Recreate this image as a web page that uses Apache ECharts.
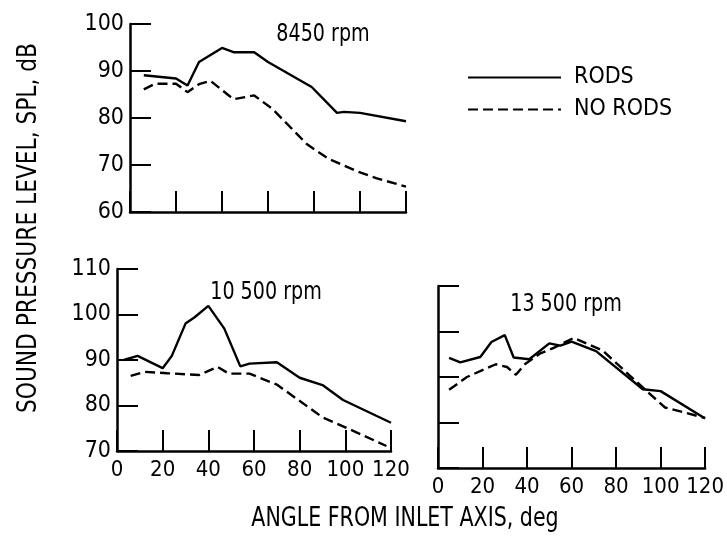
<!DOCTYPE html>
<html lang="en">
<head>
<meta charset="UTF-8">
<title>SPL vs angle from inlet axis</title>
<script src="https://cdn.jsdelivr.net/npm/echarts@6/dist/echarts.min.js"></script>
<style>
    html, body { margin: 0; height: 100%; background: #fff; }
    #main { width: 727px; height: 549px; }
</style>
</head>
<body>
<div id="main"></div>
<script>
    // values: angle (deg) / SPL (dB)
    var ang8450Rods = [6, 20, 25, 30, 40, 45, 54, 60, 79, 90, 93, 100, 120];
    var spl8450Rods = [89.1, 88.4, 86.9, 91.9, 94.9, 94, 94, 91.9, 86.6, 81.1, 81.3, 81.1, 79.3];
    var ang8450NoRods = [6, 11, 20, 25, 30, 35, 45, 54, 62, 77, 86, 98, 107, 120];
    var spl8450NoRods = [86.1, 87.3, 87.3, 85.5, 87.2, 87.9, 84, 84.8, 81.9, 74.4, 71.4, 68.8, 67.2, 65.4];

    var ang10500Rods = [3, 9, 20, 24, 30, 34, 40, 47, 54, 58, 70, 80, 90, 99, 120];
    var spl10500Rods = [90, 90.9, 88.2, 90.9, 98, 99.4, 101.9, 96.9, 88.6, 89.2, 89.5, 86.1, 84.5, 81.2, 76.2];
    var ang10500NoRods = [6, 12, 22, 36, 44, 49, 58, 70, 90, 100, 118];
    var spl10500NoRods = [86.5, 87.4, 87.1, 86.7, 88.5, 87, 87, 84.6, 77.4, 75.2, 71.1];

    var ang13500Rods = [5, 10, 19, 24, 30, 34, 41, 50, 55, 60, 71, 92, 100, 120];
    var spl13500Rods = [94.2, 93.2, 94.4, 97.7, 99.2, 94.3, 93.9, 97.4, 96.9, 97.8, 95.7, 87.3, 86.9, 80.9];
    var ang13500NoRods = [5, 13, 26, 31, 35, 39, 46, 52, 61, 74, 94, 102, 120];
    var spl13500NoRods = [87.2, 90, 92.8, 92.2, 90.5, 92.8, 95.2, 96.4, 98.6, 95.8, 86.8, 83.3, 81];

    var FONT = "'DejaVu Sans Condensed', 'DejaVu Sans', sans-serif";

    function pairs(a, v) {
        return a.map(function (x, i) { return [x, v[i]]; });
    }

    function xAxis(idx, showLabel) {
        return {
            type: 'value', gridIndex: idx, min: 0, max: 120, interval: 20,
            axisLine: { show: true, lineStyle: { color: '#000', width: 2.5 } },
            axisTick: { show: true, inside: true, length: 21, lineStyle: { color: '#000', width: 2 } },
            splitLine: { show: false },
            axisLabel: { show: showLabel, color: '#000', fontSize: 22, fontFamily: FONT, margin: 8 }
        };
    }

    function yAxis(idx, min, max, showLabel) {
        return {
            type: 'value', gridIndex: idx, min: min, max: max, interval: 10,
            axisLine: { show: true, lineStyle: { color: '#000', width: 2.5 } },
            axisTick: { show: true, inside: true, length: 21, lineStyle: { color: '#000', width: 2 } },
            splitLine: { show: false },
            axisLabel: { show: showLabel, color: '#000', fontSize: 23, fontFamily: FONT, margin: 6 }
        };
    }

    function line(name, idx, data, dashed) {
        return {
            name: name, type: 'line', xAxisIndex: idx, yAxisIndex: idx,
            data: data, symbol: 'none', smooth: false, silent: true,
            lineStyle: { color: '#000', width: 2.4, type: dashed ? [10, 5] : 'solid' },
            itemStyle: { color: '#000' }
        };
    }

    // condensed lettering of the scan: draw a bit taller, then squeeze along the text
    function label(text, x, y, size, squeeze, rot) {
        return {
            type: 'text', x: x, y: y, rotation: rot || 0, scaleX: squeeze,
            style: { text: text, fill: '#000', font: size + 'px ' + FONT,
                     textAlign: 'center', textVerticalAlign: 'middle' }
        };
    }

    var myChart = echarts.init(document.getElementById('main'));

    var option = {
        backgroundColor: '#fff',
        animation: false,
        grid: [
            { left: 130, top: 24, width: 276, height: 188 },
            { left: 117, top: 269, width: 274, height: 182 },
            { left: 438, top: 286, width: 272, height: 182 }
        ],
        xAxis: [xAxis(0, false), xAxis(1, true), xAxis(2, true)],
        yAxis: [yAxis(0, 60, 100, true), yAxis(1, 70, 110, true), yAxis(2, 70, 110, false)],
        legend: {
            orient: 'vertical', left: 467, top: 66, padding: 0,
            itemWidth: 93, itemHeight: 20, itemGap: 9,
            data: ['RODS', 'NO RODS'],
            itemStyle: { opacity: 0 },
            textStyle: { color: '#000', fontSize: 23, fontFamily: FONT, padding: [0, 0, 0, 8] }
        },
        graphic: [
            label('8450 rpm', 323, 34, 25, 0.85),
            label('10 500 rpm', 266, 292, 25, 0.85),
            label('13 500 rpm', 566, 304, 25, 0.85),
            label('ANGLE FROM INLET AXIS, deg', 405, 519, 26, 0.88),
            label('SOUND PRESSURE LEVEL, SPL, dB', 29, 228, 26, 0.93, Math.PI / 2)
        ],
        series: [
            line('RODS', 0, pairs(ang8450Rods, spl8450Rods), false),
            line('NO RODS', 0, pairs(ang8450NoRods, spl8450NoRods), true),
            line('RODS', 1, pairs(ang10500Rods, spl10500Rods), false),
            line('NO RODS', 1, pairs(ang10500NoRods, spl10500NoRods), true),
            line('RODS', 2, pairs(ang13500Rods, spl13500Rods), false),
            line('NO RODS', 2, pairs(ang13500NoRods, spl13500NoRods), true)
        ]
    };

    myChart.setOption(option);
</script>
</body>
</html>
